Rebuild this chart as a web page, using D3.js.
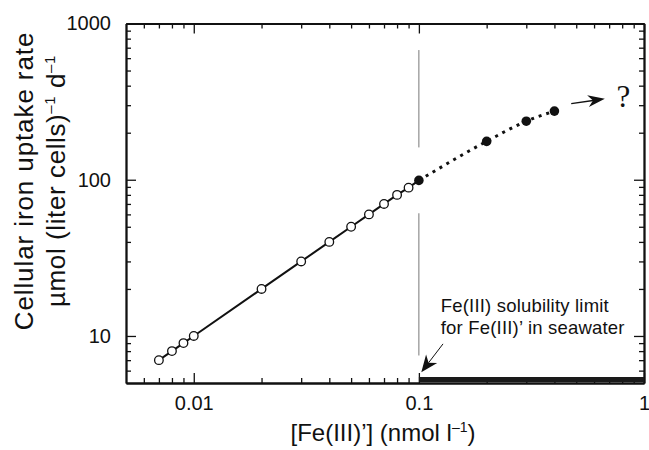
<!DOCTYPE html>
<html>
<head>
<meta charset="utf-8">
<script src="https://cdn.jsdelivr.net/npm/d3@7"></script>
<style>
  body { margin: 0; background: #fff; }
  text { font-family: "Liberation Sans", Arial, Helvetica, sans-serif; fill: #111; }
</style>
</head>
<body>
<div id="chart"></div>
<script>
const width = 649;
const height = 450;

// open circles: measured uptake below the solubility limit
const openX = [0.007, 0.008, 0.009, 0.01, 0.02, 0.03, 0.04, 0.05, 0.06, 0.07, 0.08, 0.09];
const openY = [7, 8, 9, 10, 20, 30, 40, 50, 60, 70, 80, 89];
// filled circles: extrapolated above the limit
const filledX = [0.1, 0.2, 0.3, 0.4];
const filledY = [99, 176, 237, 275];

const xMajor = [0.01, 0.1, 1];
const xLabels = ["0.01", "0.1", "1"];
const yMajor = [10, 100, 1000];
const yLabels = ["10", "100", "1000"];
const solubilityLimit = 0.1;
const limitRange = [0.1, 1];

const x = d3.scaleLog().domain([0.005, 1]).range([126, 644]);
const y = d3.scaleLog().domain([5, 1000]).range([383, 23.5]);

const svg = d3.select("#chart").append("svg")
    .attr("width", width)
    .attr("height", height);

// minor ticks for each decade
const xMinor = [];
[0.001, 0.01, 0.1].forEach(d => { for (let i = 2; i <= 9; i++) xMinor.push(+(d * i).toFixed(4)); });
const xMinorIn = xMinor.filter(v => v > 0.005 && v < 1);
const yMinor = [];
[1, 10, 100].forEach(d => { for (let i = 2; i <= 9; i++) yMinor.push(d * i); });
const yMinorIn = yMinor.filter(v => v > 5 && v < 1000);

function styleAxis(g) {
  g.selectAll("path").attr("stroke", "#111").attr("stroke-width", 1.8);
  g.selectAll("line").attr("stroke", "#111").attr("stroke-width", 1.3);
  g.selectAll("text").attr("font-size", 20).attr("fill", "#111")
      .attr("font-family", "Liberation Sans, Arial, sans-serif");
}

// bottom
svg.append("g").attr("transform", `translate(0,${y.range()[0]})`)
    .call(d3.axisBottom(x).tickValues(xMinorIn).tickSize(-5).tickSizeOuter(0).tickFormat(""))
    .call(styleAxis);
svg.append("g").attr("transform", `translate(0,${y.range()[0]})`)
    .call(d3.axisBottom(x).tickValues(xMajor).tickSize(-10).tickSizeOuter(0)
        .tickFormat((d, i) => xLabels[i]).tickPadding(13))
    .call(styleAxis);
// top
svg.append("g").attr("transform", `translate(0,${y.range()[1]})`)
    .call(d3.axisTop(x).tickValues(xMinorIn).tickSize(-5).tickSizeOuter(0).tickFormat(""))
    .call(styleAxis);
svg.append("g").attr("transform", `translate(0,${y.range()[1]})`)
    .call(d3.axisTop(x).tickValues(xMajor).tickSize(-10).tickSizeOuter(0).tickFormat(""))
    .call(styleAxis);
// left
svg.append("g").attr("transform", `translate(${x.range()[0]},0)`)
    .call(d3.axisLeft(y).tickValues(yMinorIn).tickSize(-5).tickSizeOuter(0).tickFormat(""))
    .call(styleAxis);
svg.append("g").attr("transform", `translate(${x.range()[0]},0)`)
    .call(d3.axisLeft(y).tickValues(yMajor).tickSize(-10).tickSizeOuter(0)
        .tickFormat((d, i) => yLabels[i]).tickPadding(15))
    .call(styleAxis);
// right
svg.append("g").attr("transform", `translate(${x.range()[1]},0)`)
    .call(d3.axisRight(y).tickValues(yMinorIn).tickSize(-5).tickSizeOuter(0).tickFormat(""))
    .call(styleAxis);
svg.append("g").attr("transform", `translate(${x.range()[1]},0)`)
    .call(d3.axisRight(y).tickValues(yMajor).tickSize(-10).tickSizeOuter(0).tickFormat(""))
    .call(styleAxis);

// solubility limit: thin vertical line (broken around the data) and thick bar
[[676, 161], [61, 7.5]].forEach(seg => {
  svg.append("line")
      .attr("x1", x(solubilityLimit)).attr("x2", x(solubilityLimit))
      .attr("y1", y(seg[0])).attr("y2", y(seg[1]))
      .attr("stroke", "#777").attr("stroke-width", 1);
});
svg.append("line")
    .attr("x1", x(limitRange[0])).attr("x2", x(limitRange[1]))
    .attr("y1", y(5) - 3.5).attr("y2", y(5) - 3.5)
    .attr("stroke", "#1a1a1a").attr("stroke-width", 5);

// solid line through open circles to first filled point
const solidPts = openX.map((d, i) => [d, openY[i]]).concat([[filledX[0], filledY[0]]]);
const line = d3.line().x(d => x(d[0])).y(d => y(d[1]));
svg.append("path").attr("d", line(solidPts))
    .attr("fill", "none").attr("stroke", "#111").attr("stroke-width", 2);

// dotted extrapolation
const filledPts = filledX.map((d, i) => [d, filledY[i]]);
svg.append("path").attr("d", line.curve(d3.curveMonotoneX)(filledPts))
    .attr("fill", "none").attr("stroke", "#111").attr("stroke-width", 3)
    .attr("stroke-dasharray", "3,5");

svg.selectAll("circle.open").data(solidPts.slice(0, -1)).join("circle")
    .attr("class", "open")
    .attr("cx", d => x(d[0])).attr("cy", d => y(d[1])).attr("r", 4.3)
    .attr("fill", "#fff").attr("stroke", "#111").attr("stroke-width", 1.3);
svg.selectAll("circle.filled").data(filledPts).join("circle")
    .attr("class", "filled")
    .attr("cx", d => x(d[0])).attr("cy", d => y(d[1])).attr("r", 4.8)
    .attr("fill", "#111");

// arrow helper
function arrow(x1, y1, x2, y2, len, half, notch, sw) {
  const a = Math.atan2(y2 - y1, x2 - x1);
  svg.append("line")
      .attr("x1", x1).attr("y1", y1)
      .attr("x2", x2 - Math.cos(a) * len * 0.7).attr("y2", y2 - Math.sin(a) * len * 0.7)
      .attr("stroke", "#111").attr("stroke-width", sw);
  svg.append("path")
      .attr("d", `M0,0L${-len},${-half}L${-len + notch},0L${-len},${half}Z`)
      .attr("transform", `translate(${x2},${y2}) rotate(${a * 180 / Math.PI})`)
      .attr("fill", "#111");
}

// arrow toward "?"
arrow(x(0.475), y(307), x(0.67), y(330), 17, 6, 5, 1.4);
svg.append("text")
    .attr("x", x(0.81)).attr("y", y(290))
    .attr("text-anchor", "middle")
    .attr("font-family", "Liberation Serif, Times New Roman, serif")
    .style("font-family", "Liberation Serif, Times New Roman, serif")
    .attr("font-size", 31)
    .text("?");

// solubility limit annotation
arrow(x(0.128), y(8.9), x(0.1025), y(5.86), 17, 7, 5, 1);
svg.append("text").attr("x", x(0.125)).attr("y", 312)
    .attr("font-size", 18.5).attr("letter-spacing", 0.2)
    .text("Fe(III) solubility limit");
svg.append("text").attr("x", x(0.125)).attr("y", 334)
    .attr("font-size", 18.5).attr("letter-spacing", 0.2)
    .text("for Fe(III)\u2019 in seawater");

// x axis title
const xt = svg.append("text")
    .attr("x", 383).attr("y", 441)
    .attr("text-anchor", "middle")
    .attr("font-size", 24);
xt.append("tspan").text("[Fe(III)\u2019] (nmol l");
xt.append("tspan").attr("font-size", 14).attr("dy", -9).text("\u20131");
xt.append("tspan").attr("dy", 9).text(")");

// y axis title
const yt = svg.append("g").attr("transform", "translate(0,181) rotate(-90)");
yt.append("text").attr("x", 0).attr("y", 33)
    .attr("text-anchor", "middle").attr("font-size", 26).attr("letter-spacing", 0.9)
    .text("Cellular iron uptake rate");
const l2 = yt.append("text").attr("x", 0).attr("y", 65)
    .attr("text-anchor", "middle").attr("font-size", 26).attr("letter-spacing", 0.6);
l2.append("tspan").text("\u00b5mol (liter cells)");
l2.append("tspan").attr("font-size", 15).attr("dy", -10).text("\u20131");
l2.append("tspan").attr("dy", 10).text(" d");
l2.append("tspan").attr("font-size", 15).attr("dy", -10).text("\u20131");
</script>
</body>
</html>
